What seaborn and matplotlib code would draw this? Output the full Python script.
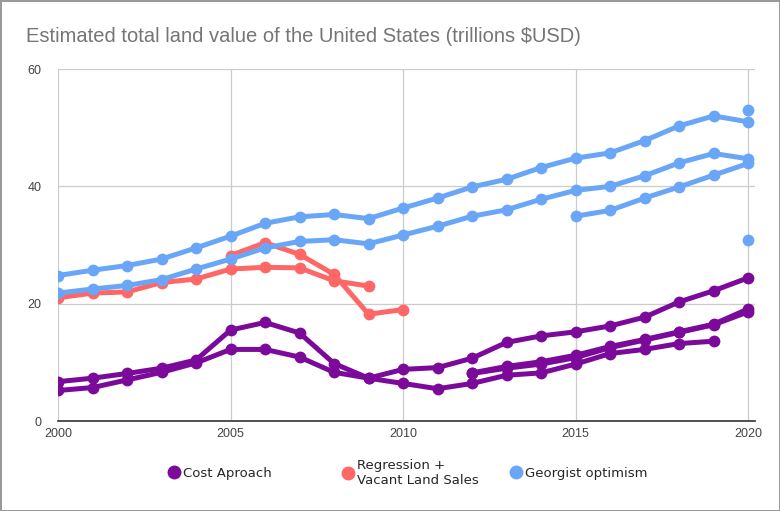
import numpy as np
import pandas as pd
import seaborn as sns
import matplotlib.pyplot as plt
from matplotlib.lines import Line2D

years = list(range(2000, 2021))
nan = np.nan

# Cost approach estimates
cost_1 = [6.7, 7.3, 8.1, 9.0, 10.4, 15.5, 16.8, 15.0, 9.8, 7.3, 8.8, 9.1, 10.7, 13.4, 14.5, 15.2, 16.2, 17.7, 20.3, 22.2, 24.4]
cost_2 = [5.2, 5.7, 7.0, 8.3, 9.9, 12.2, 12.2, 10.9, 8.3, 7.3, 6.4, 5.5, 6.4, 7.8, 8.2, 9.7, 11.5, 12.2, 13.2, 13.6, nan]
cost_3 = [nan] * 12 + [8.2, 9.3, 10.1, 11.2, 12.7, 13.9, 15.2, 16.5, 19.1]
cost_4 = [nan] * 12 + [8.1, 9.0, 9.7, 10.8, 12.5, 13.8, 15.1, 16.4, 18.6]

# Regression + vacant land sales
regr_1 = [21.0, 21.8, 22.0, 23.6, 24.2, 25.9, 26.2, 26.1, 23.9, 23.0] + [nan] * 11
regr_2 = [nan] * 5 + [28.2, 30.4, 28.4, 25.0, 18.2, 19.0] + [nan] * 10

# Georgist optimism
geo_1 = [24.8, 25.7, 26.5, 27.6, 29.5, 31.5, 33.7, 34.8, 35.2, 34.5, 36.3, 38.0, 39.9, 41.2, 43.2, 44.8, 45.7, 47.8, 50.3, 52.0, 51.0]
geo_2 = [21.8, 22.5, 23.1, 24.1, 25.9, 27.6, 29.5, 30.6, 30.9, 30.2, 31.7, 33.2, 34.9, 36.0, 37.8, 39.3, 40.0, 41.8, 44.0, 45.6, 44.7]
geo_3 = [nan] * 15 + [34.9, 35.9, 38.0, 39.9, 41.9, 43.9]
geo_4 = [nan] * 20 + [53.0]
geo_5 = [nan] * 20 + [30.9]

methods = ['Cost Aproach', 'Regression +\nVacant Land Sales', 'Georgist optimism']
colors = ['#7b0a9b', '#ff6666', '#6aa6f8']
series = {
    methods[0]: [cost_1, cost_2, cost_3, cost_4],
    methods[1]: [regr_1, regr_2],
    methods[2]: [geo_1, geo_2, geo_3, geo_4, geo_5],
}

rows = []
for m, lst in series.items():
    for i, vals in enumerate(lst):
        for y, v in zip(years, vals):
            rows.append({'year': y, 'value': v, 'method': m, 'run': f'{m}_{i}'})
df = pd.DataFrame(rows).dropna()

sns.set_style('white')
plt.rcParams['font.family'] = ['Liberation Sans', 'DejaVu Sans']

fig = plt.figure(figsize=(7.8, 5.11), dpi=100)
fig.patch.set_edgecolor('#9a9a9a')
fig.patch.set_linewidth(2)
ax = fig.add_axes([58 / 780, 90 / 511, 697 / 780, 352 / 511])

for m, c in zip(methods, colors):
    sns.lineplot(data=df[df.method == m], x='year', y='value', units='run',
                 estimator=None, color=c, lw=3.6, marker='o', markersize=8.5,
                 markeredgewidth=0, ax=ax, legend=False, zorder=3)

ax.set_xlim(2000, 2020.2)
ax.set_ylim(0, 60)
ax.set_xticks([2000, 2005, 2010, 2015, 2020])
ax.set_yticks([0, 20, 40, 60])
ax.grid(True, color='#cccccc', lw=0.9)
ax.set_axisbelow(True)
for s in ['top', 'left', 'right']:
    ax.spines[s].set_visible(False)
ax.spines['bottom'].set_color('#333333')
ax.spines['bottom'].set_linewidth(1.2)
ax.spines['bottom'].set_zorder(2)
ax.tick_params(length=0, labelsize=9, labelcolor='#444444')
ax.tick_params(axis='y', pad=12)
ax.tick_params(axis='x', pad=5)
ax.set_xlabel('')
ax.set_ylabel('')

fig.text(26 / 780, 1 - 42 / 511, 'Estimated total land value of the United States (trillions $USD)',
         fontsize=14.5, color='#757575', va='baseline', ha='left')

# legend: one entry per method
leg_x = [161, 335, 503]
for m, c, lx in zip(methods, colors, leg_x):
    h = Line2D([], [], marker='o', linestyle='', color=c, markersize=10, markeredgewidth=0)
    fig.legend(handles=[h], labels=[m], loc='center left', bbox_to_anchor=(lx / 780, 1 - 473 / 511),
               frameon=False, handletextpad=0.2, handlelength=1.0, borderpad=0,
               prop={'family': 'DejaVu Sans', 'size': 9.5})

fig.savefig('out.png', dpi=100)
